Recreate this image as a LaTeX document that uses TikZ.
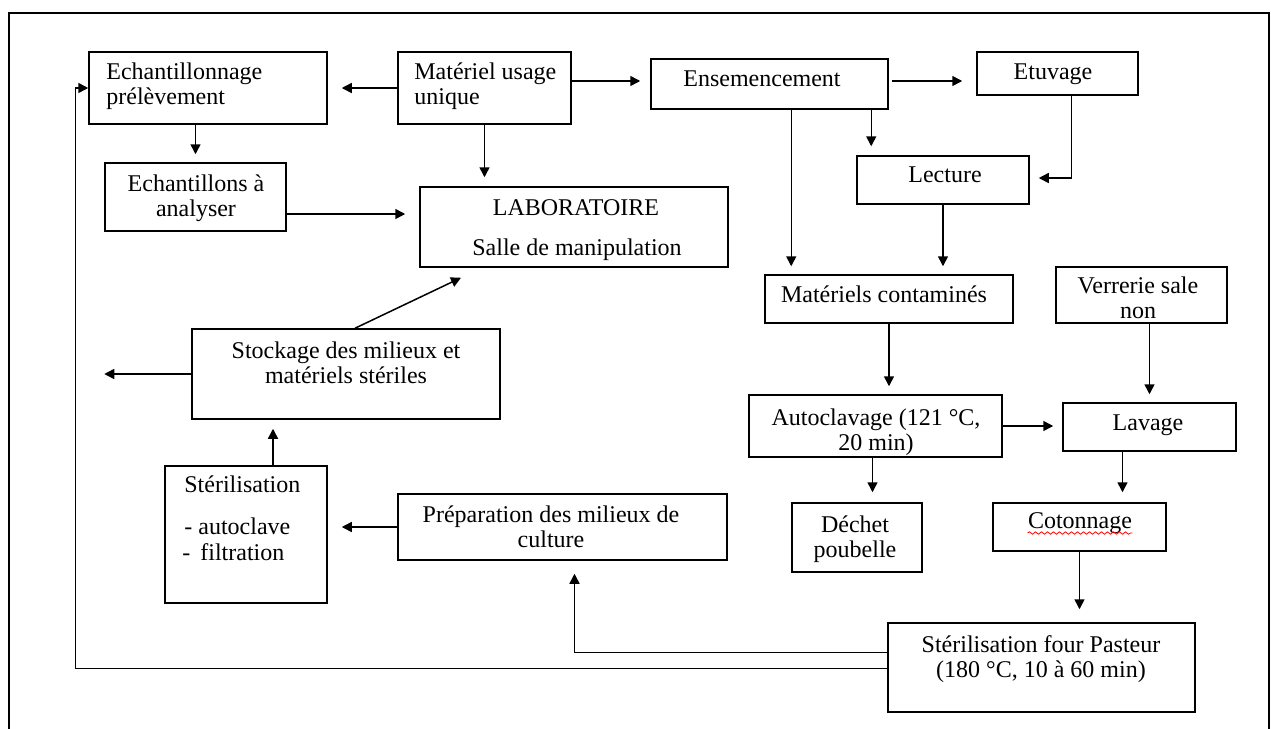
\documentclass[tikz,border=0pt]{standalone}
\usepackage{fontspec}
\setmainfont{Liberation Serif}
\usetikzlibrary{calc,fit,arrows.meta,decorations.pathmorphing}
\begin{document}
\begin{tikzpicture}[x=0.5pt,y=-0.5pt,
  box/.style={draw=black,line width=0.75pt,inner sep=0pt,rectangle},
  txt/.style={anchor=base,inner sep=0pt,font=\fontsize{12}{13}\selectfont,text=black},
  ltxt/.style={txt,anchor=base west},
  arr/.style={draw=black,line width=0.75pt,-{Triangle[length=5pt,width=5pt]}},
  frame/.style={draw=black,line width=0.75pt}]
\useasboundingbox (0,0) rectangle (1271,729);
% outer frame
\draw[frame] (9,729) -- (9,13) -- (1269,13) -- (1269,729);
% boxes
\node[box,fit={(89,52) (327,124)}] (ech) {};
\node[box,fit={(398,52) (571,124)}] (mat) {};
\node[box,fit={(651,59) (888,109)}] (ens) {};
\node[box,fit={(977,52) (1138,95)}] (etu) {};
\node[box,fit={(105,163) (286,231)}] (echa) {};
\node[box,fit={(420,187) (728,267)}] (lab) {};
\node[box,fit={(857,156) (1029,204)}] (lec) {};
\node[box,fit={(765,275) (1013,323)}] (matc) {};
\node[box,fit={(1056,267) (1227,323)}] (verr) {};
\node[box,fit={(192,329) (500,419)}] (stock) {};
\node[box,fit={(165,466) (327,603)}] (ster) {};
\node[box,fit={(398,494) (727,560)}] (prep) {};
\node[box,fit={(749,395) (1002,457)}] (auto) {};
\node[box,fit={(1063,403) (1236,451)}] (lav) {};
\node[box,fit={(792,503) (922,572)}] (dech) {};
\node[box,fit={(993,503) (1166,551)}] (coton) {};
\node[box,fit={(888,623) (1195,712)}] (past) {};
% texts
\node[ltxt] (t1a) at (106,79) {Echantillonnage};
\node[ltxt] (t1b) at (106,104) {prélèvement};
\node[ltxt] (t2a) at (414,79) {Matériel usage};
\node[ltxt] (t2b) at (414,104) {unique};
\node[txt] (t3) at (762,86) {Ensemencement};
\node[txt] (t4) at (1053,79) {Etuvage};
\node[txt] (t5a) at (196,191) {Echantillons à};
\node[txt] (t5b) at (196,216) {analyser};
\node[txt] (t6a) at (576,215) {LABORATOIRE};
\node[txt] (t6b) at (577,255) {Salle de manipulation};
\node[txt] (t7) at (945,182) {Lecture};
\node[txt] (t8) at (884,302) {Matériels contaminés};
\node[txt] (t9a) at (1138,293) {Verrerie sale};
\node[txt] (t9b) at (1138,318) {non};
\node[txt] (t10a) at (346,358) {Stockage des milieux et};
\node[txt] (t10b) at (346,383) {matériels stériles};
\node[ltxt] (t11a) at (184,492) {Stérilisation};
\node[ltxt] (t11b) at (184,534) {- autoclave};
\node[ltxt] (t11c) at (182,560) {-\hspace{5pt}filtration};
\node[txt] (t12a) at (551,522) {Préparation des milieux de};
\node[txt] (t12b) at (551,547) {culture};
\node[txt] (t13a) at (876,425) {Autoclavage (121 °C,};
\node[txt] (t13b) at (876,450) {20 min)};
\node[txt] (t14) at (1148,430) {Lavage};
\node[txt] (t15a) at (855,532) {Déchet};
\node[txt] (t15b) at (855,557) {poubelle};
\node[txt] (t16) at (1080,528) {Cotonnage};
\node[txt] (t17a) at (1041,652) {Stérilisation four Pasteur};
\node[txt] (t17b) at (1041,677) {(180 °C, 10 à 60 min)};
\draw[red,line width=0.4pt,decorate,decoration={snake,amplitude=0.6pt,segment length=3pt}]
  ($(t16.base west)+(0,5)$) -- ($(t16.base east)+(0,5)$);
% connectors
\draw[arr] (mat.west) -- ($(ech.east)+(14,0)$);
\draw[arr] ($(mat.east)+(0,-7)$) -- ($(ens.west |- mat.east)+(-10,-7)$);
\draw[arr] (ech.south -| echa.north) -- ($(echa.north)+(0,-8)$);
\draw[arr] (mat.south) -- ($(mat.south |- lab.north)+(0,-9)$);
\draw[arr] ($(echa.east)+(0,17)$) -- ($(lab.west |- echa.east)+(-14,17)$);
\draw[arr] ($(stock.north)+(9,0)$) -- ($(lab.south)+(-113,10)$);
\coordinate (stockout) at ($(stock.west)+(-87,0)$);
\draw[arr] (stock.west) -- (stockout);
\draw[arr] ($(ster.north)+(27,0)$) -- ($(stock.south -| ster.north)+(27,9)$);
\draw[arr] (prep.west) -- ($(ster.east |- prep.west)+(14,0)$);
\draw[arr] ($(past.west)+(0,-15)$) -| ($(prep.south)+(12,13)$);
\draw[arr] ($(past.west)+(0,1)$) -| ($(ech.west)+(-13,0)$) -- (ech.west);
\draw[arr] ($(ens.east)+(3,-3)$) -- ($(etu.west |- ens.east)+(-14,-3)$);
\draw[arr] ($(ens.south -| lec.west)+(15,0)$) -- ($(lec.north west)+(15,-9)$);
\draw[arr] ($(ens.south -| matc.west)+(27,0)$) -- ($(matc.north west)+(27,-8)$);
\draw[arr] ($(etu.south)+(14,0)$) |- ($(lec.east)+(9,-2)$);
\draw[arr] (lec.south) -- ($(lec.south |- matc.north)+(0,-8)$);
\draw[arr] (matc.south) -- ($(matc.south |- auto.north)+(0,-8)$);
\draw[arr] (verr.south -| lav.north) -- ($(lav.north)+(0,-8)$);
\draw[arr] (auto.east) -- ($(lav.west |- auto.east)+(-9,0)$);
\draw[arr] ($(auto.south)+(-3,0)$) -- ($(auto.south |- dech.north)+(-3,-10)$);
\draw[arr] ($(lav.south)+(-27,0)$) -- ($(lav.south |- coton.north)+(-27,-10)$);
\draw[arr] (coton.south) -- ($(coton.south |- past.north)+(0,-13)$);
\end{tikzpicture}
\end{document}
